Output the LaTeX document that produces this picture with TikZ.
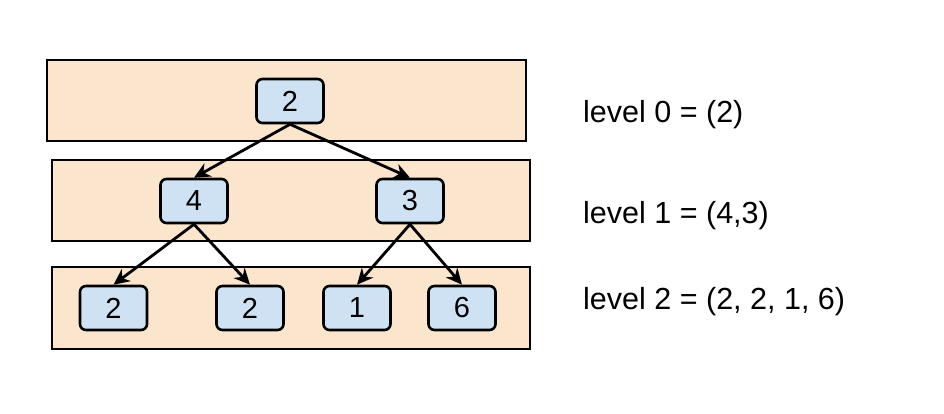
\documentclass[tikz,border=0pt]{standalone}
\usepackage{fontspec}
\setmainfont{Liberation Sans}
\usetikzlibrary{arrows.meta}
\definecolor{peach}{HTML}{FCE5CD}
\definecolor{paleblue}{HTML}{CFE2F3}

\begin{document}
\begin{tikzpicture}[x=1pt,y=-1pt]
    \tikzstyle{band} = [draw, line width=2.6pt, fill=peach, rectangle, inner sep=0pt]
    \tikzstyle{elem} = [draw, line width=2.6pt, fill=paleblue, rectangle, rounded corners=6pt, minimum width=67pt, minimum height=44pt, inner sep=0pt, font=\fontsize{29}{34}\selectfont]
    \tikzstyle{arrow} = [line width=2.8pt, -{Stealth[length=16pt,width=15pt]}]
    \tikzstyle{note} = [anchor=base west, inner sep=0pt, font=\fontsize{30.5}{36}\selectfont]
    \useasboundingbox (0,0) rectangle (944,414);
    \node (band0) [band, minimum width=479pt, minimum height=81pt] at (286.5,100.5) {};
    \node (band1) [band, minimum width=478pt, minimum height=81pt] at (291,200.5) {};
    \node (band2) [band, minimum width=478pt, minimum height=82pt] at (291,308) {};

    \node (root) [elem] at (290,101) {2};
    \node (left) [elem] at (194,201) {4};
    \node (right) [elem] at (410,201) {3};
    \node (leafa) [elem] at (113.5,308) {2};
    \node (leafb) [elem] at (250,308) {2};
    \node (leafc) [elem] at (357,308) {1};
    \node (leafd) [elem] at (462,308) {6};

    \draw [arrow] (root.south) -- (left.north);
    \draw [arrow] (root.south) -- (right.north);
    \draw [arrow] (left.south) -- (leafa.north);
    \draw [arrow] (left.south) -- (leafb.north);
    \draw [arrow] (right.south) -- (leafc.north);
    \draw [arrow] (right.south) -- (leafd.north);

    \node (lvl0) [note] at (583,123) {level 0 = (2)};
    \node (lvl1) [note] at (583,223) {level 1 = (4,3)};
    \node (lvl2) [note] at (583,309) {level 2 = (2, 2, 1, 6)};
  \end{tikzpicture}
\end{document}
